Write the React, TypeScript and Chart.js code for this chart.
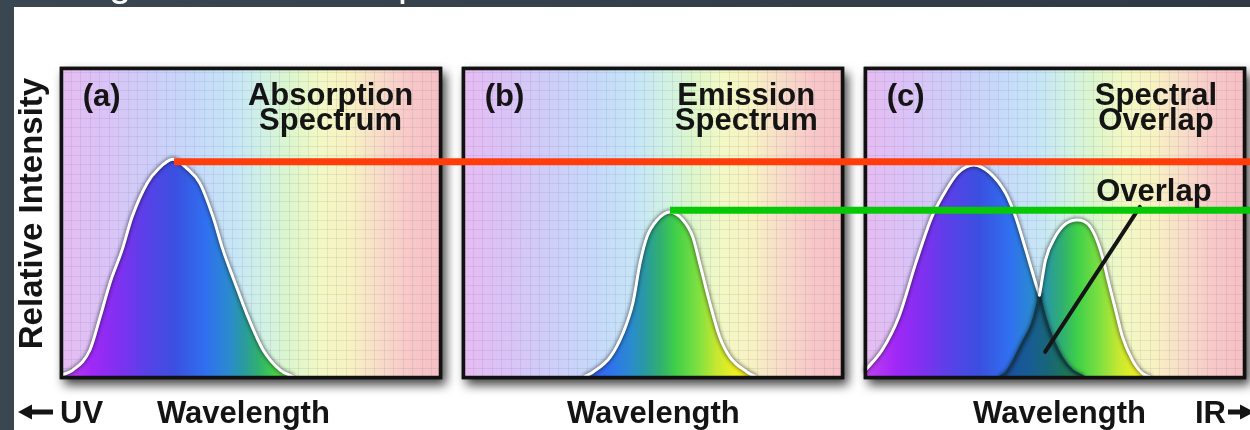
import React, { useEffect, useRef } from "react";
import { Chart, registerables } from "chart.js";

Chart.register(...registerables);

// ---------------- data (panel-local units: x 0..100 wavelength, y 0..100 intensity) ----------------
const slideTitle = "Background: FRET Spectra";
const panelLetters = ["(a)", "(b)", "(c)"];
const panelTitles = [
  ["Absorption", "Spectrum"],
  ["Emission", "Spectrum"],
  ["Spectral", "Overlap"],
];
const axisLabels = ["Wavelength", "Wavelength", "Wavelength"];
const yAxisLabel = "Relative Intensity";
const uvLabel = "UV";
const irLabel = "IR";
const overlapLabel = "Overlap";

// (a) absorption spectrum
const absorbAX = [0, 3, 7.5, 10.2, 12.8, 16, 18.6, 22.6, 25.5, 29.4, 33.3, 36.5, 40, 42.6, 45.8, 49.2, 53.2, 57.7, 61];
const absorbAY = [0.8, 2.4, 8.9, 19.6, 30.6, 41.3, 51.9, 62.9, 67.4, 70.6, 67.4, 62.9, 51.9, 41.3, 30.6, 19.6, 8.9, 2.4, 0.3];

// (b) emission spectrum
const emitBX = [32, 34.2, 38.7, 42.1, 44.7, 46.6, 48.4, 51.1, 54.5, 57.9, 60.5, 62.3, 65, 67.6, 70.3, 74.8, 77];
const emitBY = [0.3, 1.8, 6.6, 14.4, 24.1, 37.1, 45.5, 51.0, 53.6, 51.0, 45.5, 37.1, 24.1, 13.1, 6.6, 1.8, 0.3];

// (c) absorption + emission
const absorbCX = [0, 4.4, 8.8, 13.3, 17.5, 20.2, 24.4, 28.6, 32.8, 37, 39.6, 42.3, 44.9, 45.9, 47.4, 49.2, 51.8, 54.5, 57.5];
const absorbCY = [2.4, 8.9, 19.6, 37.1, 51.9, 58.4, 66.2, 68.8, 66.2, 59.6, 52, 41.3, 30.5, 26.6, 19.5, 13.1, 6.5, 2.4, 0.3];
const emitCX = [35.5, 37, 38.7, 41.4, 44, 45.9, 47.5, 50.1, 52.8, 55.9, 58.8, 60.7, 62.5, 64.2, 66, 67.8, 70.4, 73, 75];
const emitCY = [0.2, 1.4, 4.6, 11.1, 17.5, 26.6, 38, 45.6, 49.7, 51, 49.5, 45.6, 39.1, 30.5, 21.8, 13.2, 5.7, 1.4, 0.2];
const overlapX = [35.5, 37, 38.7, 41.4, 44, 45.9, 47.4, 49.2, 51.8, 54.5, 57.5];
const overlapY = [0.2, 1.4, 4.6, 11.1, 17.5, 26.6, 19.5, 13.1, 6.5, 2.4, 0.3];

// reference levels: red = absorption peak (from panel a), green = emission peak (from panel b)
const levelStartX = [29.7, 54.5];
const levelY = [69.8, 54.1];

// pointer to the overlap (panel c)
const pointerX = [47.4, 72.4];
const pointerY = [8.3, 55.2];

// ---------------- layout / style ----------------
const PANEL_OFFSET = [0, 106.07, 212.14];
const PANEL_SPAN = 100;
const X_MAX = 313.6;
const FONT = '"Liberation Sans", Arial, Helvetica, sans-serif';
const WHITE = "#ffffff";
const DARK_EDGE = "#133a48";

const FILL_STOPS: [number, string][] = [
  [0, "#c040f0"],
  [8, "#a028f8"],
  [15, "#8030f0"],
  [22, "#5a40e8"],
  [30, "#3a50e0"],
  [38, "#3070f0"],
  [44, "#2a8ad0"],
  [48, "#2a9aa0"],
  [52, "#30b070"],
  [56, "#40d048"],
  [62, "#80e040"],
  [67, "#c8e830"],
  [72, "#f0f020"],
  [80, "#f8d020"],
  [100, "#f08080"],
];

const BG_STOPS: [number, string][] = [
  [0, "#e6bcf2"],
  [10, "#dcc2f6"],
  [22, "#cfcdf8"],
  [34, "#c6d8fa"],
  [46, "#c6e6f6"],
  [54, "#d2f2e2"],
  [60, "#dcf6cc"],
  [68, "#f2f8c4"],
  [76, "#f8f2c2"],
  [84, "#f8dcc8"],
  [92, "#f8c8c8"],
  [100, "#f6c0c4"],
];

const pts = (xs: number[], ys: number[], off: number) => xs.map((x, i) => ({ x: x + off, y: ys[i] }));

const spectrumFill = (off: number) => (c: any) => {
  const chart = c.chart;
  const xs = chart.scales?.x;
  if (!xs || !chart.chartArea) return "rgba(0,0,0,0)";
  const x0 = xs.getPixelForValue(off);
  const x1 = xs.getPixelForValue(off + PANEL_SPAN);
  if (!isFinite(x0) || !isFinite(x1)) return "rgba(0,0,0,0)";
  const g = chart.ctx.createLinearGradient(x0, 0, x1, 0);
  FILL_STOPS.forEach(([p, col]) => g.addColorStop(p / 100, col));
  return g;
};

function drawBorders(chart: any) {
  const { ctx, scales } = chart;
  const xs = scales.x, ys = scales.y;
  ctx.save();
  ctx.strokeStyle = "#111111";
  ctx.lineWidth = 3.5;
  PANEL_OFFSET.forEach((off) => {
    const x0 = xs.getPixelForValue(off), x1 = xs.getPixelForValue(off + PANEL_SPAN);
    const y0 = ys.getPixelForValue(100), y1 = ys.getPixelForValue(0);
    ctx.strokeRect(x0, y0, x1 - x0, y1 - y0);
  });
  ctx.restore();
}

const scenePlugin = {
  id: "scene",
  beforeDraw(chart: any) {
    const ctx = chart.ctx;
    ctx.save();
    ctx.fillStyle = "#ffffff";
    ctx.font = `40px ${FONT}`;
    ctx.textBaseline = "alphabetic";
    ctx.fillText(slideTitle, 20, -4);
    ctx.restore();
  },
  beforeDatasetsDraw(chart: any) {
    const { ctx, scales } = chart;
    const xs = scales.x, ys = scales.y;
    PANEL_OFFSET.forEach((off) => {
      const x0 = xs.getPixelForValue(off), x1 = xs.getPixelForValue(off + PANEL_SPAN);
      const y0 = ys.getPixelForValue(100), y1 = ys.getPixelForValue(0);
      const w = x1 - x0, h = y1 - y0;
      ctx.save();
      ctx.shadowColor = "rgba(0,0,0,0.75)";
      ctx.shadowBlur = 10;
      ctx.shadowOffsetX = 4;
      ctx.shadowOffsetY = 6;
      ctx.fillStyle = "#111";
      ctx.fillRect(x0 - 1.75, y0 - 1.75, w + 3.5, h + 3.5);
      ctx.restore();
      ctx.save();
      const g = ctx.createLinearGradient(x0, 0, x1, 0);
      BG_STOPS.forEach(([p, col]) => g.addColorStop(p / 100, col));
      ctx.fillStyle = g;
      ctx.fillRect(x0, y0, w, h);
      ctx.strokeStyle = "rgba(110,110,150,0.13)";
      ctx.lineWidth = 1;
      ctx.beginPath();
      for (let u = 2.5; u < PANEL_SPAN; u += 2.5) {
        const px = Math.round(xs.getPixelForValue(off + u)) + 0.5;
        ctx.moveTo(px, y0);
        ctx.lineTo(px, y1);
      }
      for (let v = 3; v < 100; v += 3) {
        const py = Math.round(ys.getPixelForValue(v)) + 0.5;
        ctx.moveTo(x0, py);
        ctx.lineTo(x1, py);
      }
      ctx.stroke();
      ctx.restore();
    });
  },
  beforeDatasetDraw(chart: any, args: any) {
    const ds = chart.data.datasets[args.index];
    if (ds.role === "green") drawBorders(chart);
    if (ds.glow) {
      chart.ctx.save();
      chart.ctx.shadowColor = "rgba(0,0,0,0.8)";
      chart.ctx.shadowBlur = 4;
    }
  },
  afterDatasetDraw(chart: any, args: any) {
    const ds = chart.data.datasets[args.index];
    if (ds.glow) chart.ctx.restore();
  },
  afterDatasetsDraw(chart: any) {
    const { ctx, scales, chartArea } = chart;
    const xs = scales.x, ys = scales.y;
    ctx.save();
    ctx.fillStyle = "#141414";
    ctx.textBaseline = "alphabetic";
    ctx.font = `bold 31px ${FONT}`;
    PANEL_OFFSET.forEach((off, i) => {
      // letter
      ctx.textAlign = "left";
      ctx.fillText(panelLetters[i], xs.getPixelForValue(off + 5.6), ys.getPixelForValue(87.9));
      // title (two lines, second centred under first)
      const [l1, l2] = panelTitles[i];
      const right = xs.getPixelForValue(off + 92.8);
      const w1 = ctx.measureText(l1).width;
      const cx = right - w1 / 2;
      ctx.textAlign = "center";
      ctx.fillText(l1, cx, ys.getPixelForValue(88.2));
      ctx.fillText(l2, cx, ys.getPixelForValue(80.1));
    });
    // overlap label in panel c
    ctx.textAlign = "center";
    ctx.fillText(overlapLabel, xs.getPixelForValue(PANEL_OFFSET[2] + 76.1), ys.getPixelForValue(57.1));

    // bottom wavelength labels
    const baseY = chartArea.bottom + 45.5;
    const labelX = [48, 50.1, 51.2];
    axisLabels.forEach((t, i) => {
      ctx.fillText(t, xs.getPixelForValue(PANEL_OFFSET[i] + labelX[i]), baseY);
    });
    // UV / IR
    ctx.textAlign = "left";
    ctx.fillText(uvLabel, 60, baseY);
    ctx.fillText(irLabel, 1195, baseY);
    const ay = baseY - 11;
    // left arrow
    ctx.beginPath();
    ctx.moveTo(18, ay);
    ctx.lineTo(32, ay - 7.5);
    ctx.lineTo(32, ay + 7.5);
    ctx.closePath();
    ctx.fill();
    ctx.fillRect(30, ay - 2.5, 23, 5);
    // right arrow
    ctx.fillRect(1228, ay - 2.5, 14, 5);
    ctx.beginPath();
    ctx.moveTo(1254, ay);
    ctx.lineTo(1240, ay - 7.5);
    ctx.lineTo(1240, ay + 7.5);
    ctx.closePath();
    ctx.fill();

    // y axis label
    ctx.translate(42, (chartArea.top + chartArea.bottom) / 2 - 9.5);
    ctx.rotate(-Math.PI / 2);
    ctx.textAlign = "center";
    ctx.font = `bold 33px ${FONT}`;
    ctx.fillText(yAxisLabel, 0, 0);
    ctx.restore();
  },
};

export default function App() {
  const ref = useRef<HTMLCanvasElement>(null);

  useEffect(() => {
    const canvas = ref.current;
    if (!canvas) return;
    const offA = PANEL_OFFSET[0], offB = PANEL_OFFSET[1], offC = PANEL_OFFSET[2];
    const dipLocal = overlapX[overlapY.indexOf(Math.max(...overlapY))];

    const datasets: any[] = [
      {
        role: "absA",
        data: pts(absorbAX, absorbAY, offA),
        fill: "origin",
        backgroundColor: spectrumFill(offA),
        borderColor: WHITE,
        borderWidth: 3,
        cubicInterpolationMode: "monotone",
        glow: true,
        order: 20,
      },
      {
        role: "emiB",
        data: pts(emitBX, emitBY, offB),
        fill: "origin",
        backgroundColor: spectrumFill(offB),
        borderColor: WHITE,
        borderWidth: 3,
        cubicInterpolationMode: "monotone",
        glow: true,
        order: 20,
      },
      {
        role: "absCfill",
        data: pts(absorbCX, absorbCY, offC),
        fill: "origin",
        backgroundColor: spectrumFill(offC),
        borderWidth: 0,
        borderColor: "rgba(0,0,0,0)",
        cubicInterpolationMode: "monotone",
        order: 30,
      },
      {
        role: "emiCfill",
        data: pts(emitCX, emitCY, offC),
        fill: "origin",
        backgroundColor: spectrumFill(offC),
        borderWidth: 0,
        borderColor: "rgba(0,0,0,0)",
        cubicInterpolationMode: "monotone",
        order: 29,
      },
      {
        role: "overlap",
        data: pts(overlapX, overlapY, offC),
        fill: "origin",
        backgroundColor: "rgba(6,50,80,0.5)",
        borderWidth: 0,
        borderColor: "rgba(0,0,0,0)",
        tension: 0,
        order: 28,
      },
      {
        role: "absCline",
        data: pts(absorbCX, absorbCY, offC),
        fill: false,
        borderColor: WHITE,
        borderWidth: 3,
        cubicInterpolationMode: "monotone",
        glow: true,
        segment: {
          borderColor: (s: any) => (absorbCX[s.p0DataIndex] >= dipLocal - 1e-6 ? DARK_EDGE : WHITE),
          borderWidth: (s: any) => (absorbCX[s.p0DataIndex] >= dipLocal - 1e-6 ? 2.5 : 3),
        },
        order: 15,
      },
      {
        role: "emiCline",
        data: pts(emitCX, emitCY, offC),
        fill: false,
        borderColor: WHITE,
        borderWidth: 3,
        cubicInterpolationMode: "monotone",
        glow: true,
        segment: {
          borderColor: (s: any) => (emitCX[s.p1DataIndex] <= dipLocal + 1e-6 ? DARK_EDGE : WHITE),
          borderWidth: (s: any) => (emitCX[s.p1DataIndex] <= dipLocal + 1e-6 ? 2.5 : 3),
        },
        order: 14,
      },
      {
        role: "pointer",
        data: pts(pointerX, pointerY, offC),
        fill: false,
        borderColor: "#151515",
        borderWidth: 4,
        tension: 0,
        order: 12,
      },
      {
        role: "green",
        data: [
          { x: offB + levelStartX[1], y: levelY[1] },
          { x: X_MAX, y: levelY[1] },
        ],
        fill: false,
        borderColor: "#06c806",
        borderWidth: 7,
        borderCapStyle: "butt",
        tension: 0,
        order: 3,
      },
      {
        role: "red",
        data: [
          { x: offA + levelStartX[0], y: levelY[0] },
          { x: X_MAX, y: levelY[0] },
        ],
        fill: false,
        borderColor: "#ff3c0a",
        borderWidth: 7,
        borderCapStyle: "butt",
        tension: 0,
        order: 2,
      },
    ];

    const chart = new Chart(canvas, {
      type: "line",
      data: { datasets },
      options: {
        animation: false,
        responsive: false,
        devicePixelRatio: 1,
        events: [],
        layout: { padding: { left: 61.5, right: 0, top: 68.5, bottom: 52.5 } },
        scales: {
          x: { type: "linear", min: 0, max: X_MAX, display: false },
          y: { type: "linear", min: 0, max: 100, display: false },
        },
        elements: {
          point: { radius: 0, hoverRadius: 0 },
          line: { borderJoinStyle: "round", borderCapStyle: "round" },
        },
        plugins: {
          legend: { display: false },
          tooltip: { enabled: false },
          filler: { propagate: false },
        },
      } as any,
      plugins: [scenePlugin as any],
    });
    return () => chart.destroy();
  }, []);

  return (
    <div
      style={{
        position: "fixed",
        left: 0,
        top: 0,
        width: 1250,
        height: 430,
        overflow: "hidden",
        background: "linear-gradient(90deg, #3a4650, #2e3943)",
      }}
    >
      <div style={{ position: "absolute", left: 14, top: 7, right: 0, bottom: 0, background: "#ffffff" }} />
      <canvas
        ref={ref}
        width={1250}
        height={430}
        style={{ position: "absolute", left: 0, top: 0, width: 1250, height: 430, display: "block" }}
      />
    </div>
  );
}
